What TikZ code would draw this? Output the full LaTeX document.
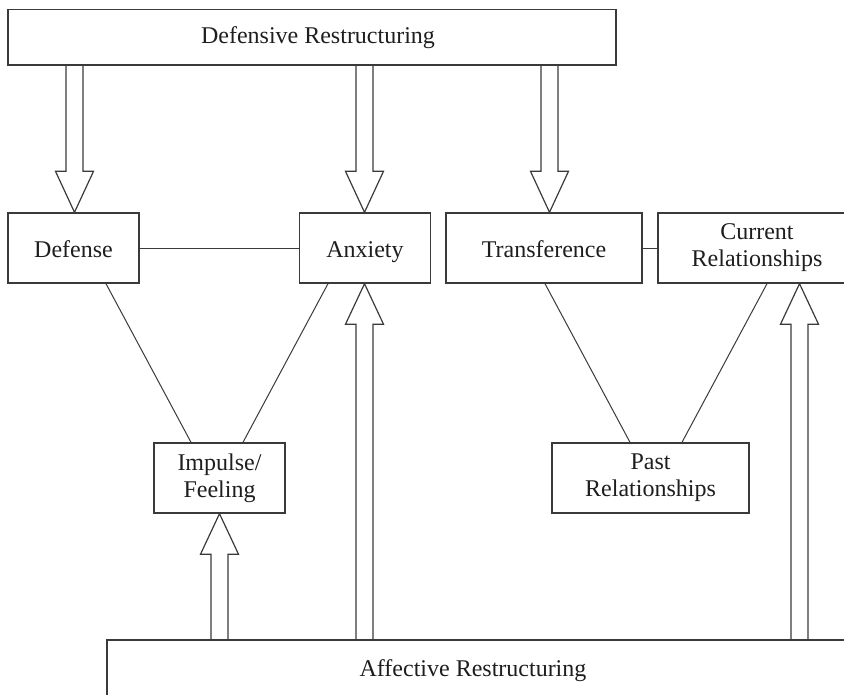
\documentclass[tikz,border=0pt]{standalone}
\usepackage{fontspec}
\setmainfont{Liberation Serif}
\usetikzlibrary{calc}
\definecolor{ink}{HTML}{1E1E1E}
\definecolor{rulegray}{HTML}{3A3A3A}

% hollow block arrows: #1 = start of the shaft, #2 = point of the tip
\newcommand\blockdown[2]{%
  \draw[blockline] let \p1=(#1), \p2=(#2) in
    (\x1-8.5pt,\y1) -- (\x1-8.5pt,\y2+41pt) -- (\x1-19pt,\y2+41pt) -- (\x1,\y2)
    -- (\x1+19pt,\y2+41pt) -- (\x1+8.5pt,\y2+41pt) -- (\x1+8.5pt,\y1);}
\newcommand\blockup[2]{%
  \draw[blockline] let \p1=(#1), \p2=(#2) in
    (\x1-8.5pt,\y1) -- (\x1-8.5pt,\y2-40.5pt) -- (\x1-19pt,\y2-40.5pt) -- (\x1,\y2)
    -- (\x1+19pt,\y2-40.5pt) -- (\x1+8.5pt,\y2-40.5pt) -- (\x1+8.5pt,\y1);}

\begin{document}
\begin{tikzpicture}[x=1pt,y=1pt,
  box/.style={draw=rulegray, line width=1.4pt, inner sep=0pt, align=center,
    text=ink, font=\fontsize{24}{27}\selectfont, minimum height=70pt},
  oneline/.style={text height=18pt, text depth=0pt},
  every label/.style={inner sep=0pt, text=ink, font=\fontsize{24}{27}\selectfont},
  link/.style={draw=rulegray, line width=1pt},
  blockline/.style={draw=rulegray, line width=1.2pt, line join=miter}]

\useasboundingbox (0,0) rectangle (844,-694);
\clip (0,0) rectangle (844,-694);

% boxes
\node[box, minimum width=608pt, minimum height=55.5pt,
      label={[xshift=6pt]center:Defensive Restructuring}] (defres) at (312,-37.25) {};
\node[box, oneline, minimum width=131pt] (defense) at (73.5,-248) {Defense};
\node[box, oneline, minimum width=131.5pt] (anxiety) at (365,-248) {Anxiety};
\node[box, oneline, minimum width=196pt] (transference) at (544,-248) {Transference};
\node[box, minimum width=198pt] (current) at (757,-248) {Current\\Relationships};
\node[box, minimum width=131pt] (impulse) at (219.5,-478) {Impulse/\\Feeling};
\node[box, minimum width=197pt] (past) at (650.5,-478) {Past\\Relationships};
\node[box, minimum width=773pt, minimum height=80pt,
      label={[xshift=-20.5pt,yshift=9.5pt]center:Affective Restructuring}] (affective) at (493.5,-680) {};

% plain links
\draw[link] (defense.east) -- (anxiety.west);
\draw[link] (transference.east) -- (current.west);
\draw[link] ([xshift=32.5pt]defense.south) -- ([xshift=-28.5pt]impulse.north);
\draw[link] ([xshift=-37pt]anxiety.south) -- ([xshift=23.5pt]impulse.north);
\draw[link] ([xshift=1pt]transference.south) -- ([xshift=-20.5pt]past.north);
\draw[link] ([xshift=31.5pt]past.north) -- ([xshift=10pt]current.south);

% block arrows from the top box
\blockdown{[xshift=-237.5pt]defres.south}{defense.north}
\blockdown{[xshift=52.5pt]defres.south}{anxiety.north}
\blockdown{[xshift=237.5pt]defres.south}{transference.north}

% block arrows from the bottom box
\blockup{[xshift=-274pt]affective.north}{impulse.south}
\blockup{[xshift=-129pt]affective.north}{anxiety.south}
\blockup{[xshift=306pt]affective.north}{current.south}
\end{tikzpicture}
\end{document}
